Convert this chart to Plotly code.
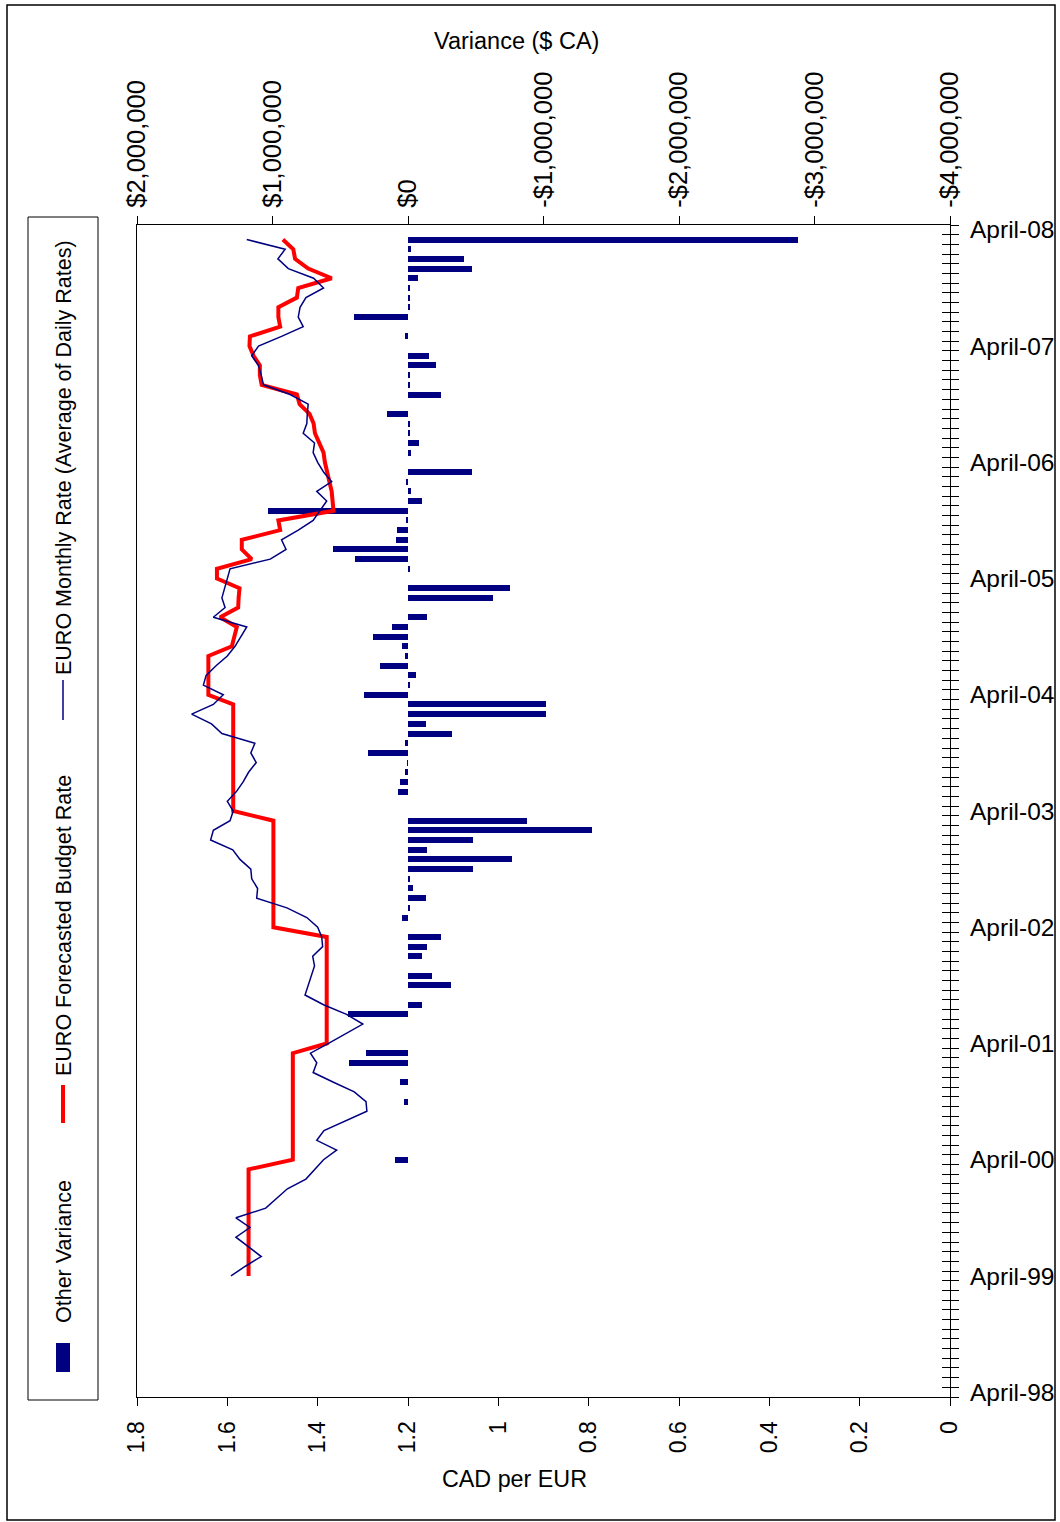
import plotly.graph_objects as go

# ---------------- data ----------------
# month index: 0 = April 1998 ... 120 = April 2008
year_tick_months = [0, 12, 24, 36, 48, 60, 72, 84, 96, 108, 120]
year_tick_labels = ["April-98", "April-99", "April-00", "April-01", "April-02", "April-03",
                    "April-04", "April-05", "April-06", "April-07", "April-08"]

line_months = list(range(12, 120))

monthly_rate = [  # EURO Monthly Rate (Average of Daily Rates), CAD per EUR
    1.592, 1.560, 1.525, 1.553, 1.581, 1.550, 1.581, 1.515, 1.491, 1.467, 1.426, 1.406,
    1.387, 1.358, 1.402, 1.386, 1.338, 1.291, 1.293, 1.319, 1.365, 1.410, 1.402, 1.416,
    1.376, 1.338, 1.300, 1.336, 1.387, 1.428, 1.421, 1.414, 1.407, 1.411, 1.389, 1.391,
    1.400, 1.424, 1.468, 1.535, 1.533, 1.546, 1.548, 1.572, 1.588, 1.637, 1.631, 1.594,
    1.587, 1.600, 1.580, 1.565, 1.553, 1.536, 1.548, 1.539, 1.612, 1.635, 1.679, 1.631,
    1.609, 1.653, 1.647, 1.625, 1.600, 1.583, 1.570, 1.557, 1.631, 1.605, 1.612, 1.606,
    1.600, 1.594, 1.505, 1.470, 1.480, 1.443, 1.410, 1.395, 1.380, 1.402, 1.369, 1.387,
    1.400, 1.410, 1.407, 1.432, 1.424, 1.423, 1.421, 1.461, 1.520, 1.525, 1.531, 1.546,
    1.531, 1.480, 1.432, 1.443, 1.439, 1.426, 1.387, 1.409, 1.465, 1.488, 1.472, 1.557,
]

budget_rate = [  # EURO Forecasted Budget Rate, CAD per EUR
    1.553, 1.553, 1.553, 1.553, 1.553, 1.553, 1.553, 1.553, 1.553, 1.553, 1.553, 1.553,
    1.455, 1.455, 1.455, 1.455, 1.455, 1.455, 1.455, 1.455, 1.455, 1.455, 1.455, 1.455,
    1.380, 1.380, 1.380, 1.380, 1.380, 1.380, 1.380, 1.380, 1.380, 1.380, 1.380, 1.380,
    1.498, 1.498, 1.498, 1.498, 1.498, 1.498, 1.498, 1.498, 1.498, 1.498, 1.498, 1.498,
    1.587, 1.587, 1.587, 1.587, 1.587, 1.587, 1.587, 1.587, 1.587, 1.587, 1.587, 1.587,
    1.642, 1.642, 1.642, 1.642, 1.642, 1.590, 1.585, 1.579, 1.616, 1.576, 1.575, 1.573,
    1.623, 1.623, 1.546, 1.568, 1.568, 1.483, 1.487, 1.365, 1.367, 1.369, 1.374, 1.380,
    1.384, 1.387, 1.397, 1.406, 1.409, 1.418, 1.440, 1.446, 1.524, 1.528, 1.528, 1.542,
    1.551, 1.550, 1.483, 1.487, 1.487, 1.446, 1.443, 1.369, 1.421, 1.450, 1.454, 1.477,
]

bar_months = [24, 30, 32, 34, 35, 39, 40, 42, 43, 45, 46, 47, 49, 50, 51, 52, 53, 54, 55,
              56, 57, 58, 59, 62, 63, 64, 65, 66, 67, 68, 69, 70, 71, 72, 73, 74, 75, 76,
              77, 78, 79, 80, 82, 83, 85, 86, 87, 88, 89, 90, 91, 92, 93, 94, 95, 97, 98,
              99, 100, 101, 103, 104, 105, 106, 107, 109, 111, 112, 113, 114, 115, 116,
              117, 118, 119]
other_variance = [  # $ CA
    99000, 32000, 57000, 432000, 312000, 445000, -103000, -317000, -177000, -105000,
    -143000, -243000, 47000, -8000, -135000, -37000, -10000, -479000, -766000,
    -140000, -483000, -1355000, -876000, 77000, 62000, 20000, 5000, 297000, 20000,
    -321000, -132000, -1020000, -1020000, 327000, -10000, -61000, 204000, 25000,
    44000, 258000, 116000, -140000, -628000, -751000, -10000, 388000, 557000,
    91000, 84000, 10000, 1030000, -100000, -25000, 15000, -470000, -20000, -81000,
    -10000, -10000, 158000, -245000, -15000, -10000, -204000, -155000, 20000,
    395000, -12000, -10000, -10000, -74000, -470000, -410000, -20000, -2880000,
]

cad_ticks = [0, 0.2, 0.4, 0.6, 0.8, 1, 1.2, 1.4, 1.6, 1.8]
cad_tick_labels = ["0", "0.2", "0.4", "0.6", "0.8", "1", "1.2", "1.4", "1.6", "1.8"]
var_ticks = [2000000, 1000000, 0, -1000000, -2000000, -3000000, -4000000]
var_tick_labels = ["$2,000,000", "$1,000,000", "$0", "-$1,000,000", "-$2,000,000",
                   "-$3,000,000", "-$4,000,000"]

# ---------------- layout geometry ----------------
W, H = 1060, 1522
L, R, T, B = 137, 950, 225, 1397
FONT = "Liberation Sans, Arial, sans-serif"
NAVY = "#000080"
RED = "#FF0000"


def px(x):
    return (x - L) / (R - L)


def py(y):
    return (B - y) / (B - T)


month_range = [-0.5, 120.5]
boundaries = [k - 0.5 for k in range(0, 122)]

fig = go.Figure()

fig.add_trace(go.Bar(
    y=bar_months, x=other_variance, orientation="h", xaxis="x", yaxis="y",
    marker=dict(color=NAVY, line=dict(width=0)), width=0.62, showlegend=False,
    name="Other Variance"))

fig.add_trace(go.Scatter(
    x=budget_rate, y=line_months, mode="lines", xaxis="x2", yaxis="y",
    line=dict(color=RED, width=4), showlegend=False,
    name="EURO Forecasted Budget Rate"))

fig.add_trace(go.Scatter(
    x=monthly_rate, y=line_months, mode="lines", xaxis="x2", yaxis="y",
    line=dict(color=NAVY, width=1.5), showlegend=False,
    name="EURO Monthly Rate (Average of Daily Rates)"))

# dummy traces so tick-only axes are drawn
fig.add_trace(go.Scatter(x=[None], y=[None], xaxis="x", yaxis="y3", showlegend=False,
                         hoverinfo="skip"))
fig.add_trace(go.Scatter(x=[None], y=[None], xaxis="x", yaxis="y4", showlegend=False,
                         hoverinfo="skip"))

axis_common = dict(showgrid=False, zeroline=False, linecolor="black", linewidth=1.2,
                   tickcolor="black", tickwidth=1.2, automargin=False)

fig.update_layout(
    width=W, height=H, autosize=False,
    margin=dict(l=L, r=W - R, t=T, b=H - B, pad=0, autoexpand=False),
    paper_bgcolor="white", plot_bgcolor="white",
    font=dict(family=FONT, color="black", size=23),
    showlegend=False,
    bargap=0,
    xaxis=dict(
        **axis_common, side="top", anchor="y", range=[2000000, -4000000],
        tickmode="array", tickvals=var_ticks, ticktext=var_tick_labels,
        ticks="outside", ticklen=8, tickangle=-90, showline=True,
        tickfont=dict(size=25.5, family=FONT), ticklabelstandoff=3,
    ),
    xaxis2=dict(
        **axis_common, side="bottom", anchor="y", overlaying="x", range=[1.8, 0],
        tickmode="array", tickvals=cad_ticks, ticktext=cad_tick_labels,
        ticks="outside", ticklen=8, tickangle=-90, showline=True,
        tickfont=dict(size=23, family=FONT), ticklabelstandoff=6,
    ),
    yaxis=dict(
        **axis_common, side="right", anchor="x", range=month_range,
        tickmode="array", tickvals=year_tick_months, ticktext=year_tick_labels,
        ticks="", showline=True, mirror=True,
        tickfont=dict(size=24.5, family=FONT), ticklabelstandoff=14,
    ),
    yaxis3=dict(
        **axis_common, side="right", anchor="x", overlaying="y", range=month_range,
        tickmode="array", tickvals=boundaries, ticks="outside", ticklen=8,
        showticklabels=False, showline=False,
    ),
    yaxis4=dict(
        **axis_common, side="right", anchor="x", overlaying="y", range=month_range,
        tickmode="array", tickvals=boundaries, ticks="inside", ticklen=8,
        showticklabels=False, showline=False,
    ),
)

annotations = [
    dict(text="CAD per EUR", x=px(514), y=py(1479), xref="paper", yref="paper",
         showarrow=False, font=dict(size=23.3, family=FONT, color="black"),
         xanchor="center", yanchor="middle"),
    dict(text="Variance ($ CA)", x=px(516), y=py(41), xref="paper", yref="paper",
         showarrow=False, font=dict(size=23.5, family=FONT, color="black"),
         xanchor="center", yanchor="middle"),
    dict(text="Other Variance", x=px(64), y=py(1252), xref="paper", yref="paper",
         showarrow=False, textangle=-90, font=dict(size=21.5, family=FONT, color="black"),
         xanchor="center", yanchor="middle"),
    dict(text="EURO Forecasted Budget Rate", x=px(64), y=py(926), xref="paper",
         yref="paper", showarrow=False, textangle=-90,
         font=dict(size=21.5, family=FONT, color="black"),
         xanchor="center", yanchor="middle"),
    dict(text="EURO Monthly Rate (Average of Daily Rates)", x=px(64), y=py(458),
         xref="paper", yref="paper", showarrow=False, textangle=-90,
         font=dict(size=21.5, family=FONT, color="black"),
         xanchor="center", yanchor="middle"),
]
fig.update_layout(annotations=annotations)

shapes = [
    # outer border
    dict(type="rect", xref="paper", yref="paper", x0=px(7), x1=px(1055), y0=py(1520),
         y1=py(5), line=dict(color="black", width=1.5), fillcolor="rgba(0,0,0,0)"),
    # legend box
    dict(type="rect", xref="paper", yref="paper", x0=px(28), x1=px(98), y0=py(1400),
         y1=py(217), line=dict(color="black", width=1), fillcolor="rgba(0,0,0,0)"),
    # legend markers
    dict(type="rect", xref="paper", yref="paper", x0=px(56), x1=px(70), y0=py(1372),
         y1=py(1343), line=dict(width=0), fillcolor=NAVY),
    dict(type="line", xref="paper", yref="paper", x0=px(63), x1=px(63), y0=py(1123),
         y1=py(1085), line=dict(color=RED, width=4)),
    dict(type="line", xref="paper", yref="paper", x0=px(63), x1=px(63), y0=py(720),
         y1=py(680), line=dict(color=NAVY, width=1.5)),
]
fig.update_layout(shapes=shapes)

fig.write_html(
    "out.html",
    config={"displayModeBar": False, "responsive": False},
    post_script="document.body.style.margin='0';document.body.style.padding='0';"
                "document.documentElement.style.overflow='hidden';"
                "document.body.style.overflow='hidden';",
)
